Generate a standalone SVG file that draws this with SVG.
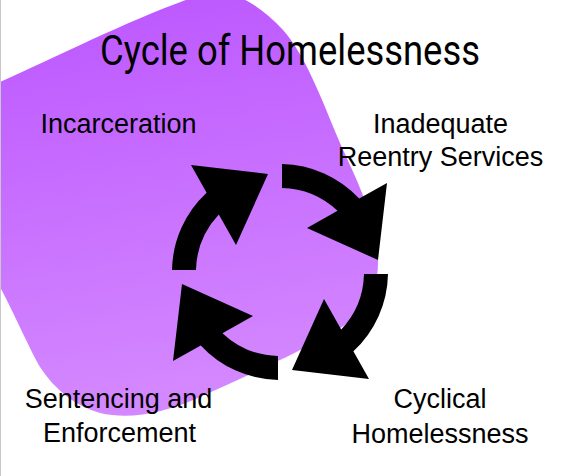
<svg xmlns="http://www.w3.org/2000/svg" width="580" height="476" viewBox="0 0 580 476">
  <defs>
    <linearGradient id="blobGrad" x1="0" y1="0" x2="0.15" y2="1">
      <stop offset="0" stop-color="#bb55ff"/>
      <stop offset="1" stop-color="#d488ff"/>
    </linearGradient>
    <path id="arrowShape" d="M 2 -108 A 108 108 0 0 1 79.24 -73.39 L 107 -89 L 98 -12 L 27 -44 L 57.55 -61.19 A 84 84 0 0 0 2 -84 Z"/>
  </defs>
  <style>
    .title { font-family: "Roboto", "Liberation Sans", sans-serif; font-weight: 400; font-size: 42px; fill: #000; }
    .label { font-family: "Liberation Sans", Arial, sans-serif; font-size: 27px; fill: #000; text-anchor: middle; }
    .arrow { fill: #000; }
  </style>
  <rect x="0" y="0" width="580" height="476" fill="#ffffff"/>
  <g id="blob">
    <path d="M -10 88 L 0 82 C 60 55 140 15 200 -5 C 230 -15 260 5 283 30 C 305 55 320 95 340 143 C 352 170 370 205 376 240 C 381 268 378 295 355 318 C 330 338 260 370 200 397 C 165 413 130 420 100 413 C 75 406 55 390 40 367 C 30 350 15 315 0 287 L -10 270 Z" fill="url(#blobGrad)"/>
  </g>
  <rect x="0" y="0" width="1" height="476" fill="#c8c8c8"/>
  <g id="title">
    <text class="title" x="100" y="65" textLength="380" lengthAdjust="spacingAndGlyphs">Cycle of Homelessness</text>
  </g>
  <g id="connectors" transform="translate(280 272)">
    <use href="#arrowShape" class="arrow"/>
    <use href="#arrowShape" class="arrow" transform="rotate(90)"/>
    <use href="#arrowShape" class="arrow" transform="rotate(180)"/>
    <use href="#arrowShape" class="arrow" transform="rotate(270)"/>
  </g>
  <g id="node-incarceration">
    <text class="label" x="118.5" y="133">Incarceration</text>
  </g>
  <g id="node-reentry">
    <text class="label" x="440.5" y="133">Inadequate</text>
    <text class="label" x="440.5" y="166">Reentry Services</text>
  </g>
  <g id="node-cyclical">
    <text class="label" x="440" y="408">Cyclical</text>
    <text class="label" x="440" y="443">Homelessness</text>
  </g>
  <g id="node-sentencing">
    <text class="label" x="118.5" y="408">Sentencing and</text>
    <text class="label" x="119.5" y="442">Enforcement</text>
  </g>
</svg>
